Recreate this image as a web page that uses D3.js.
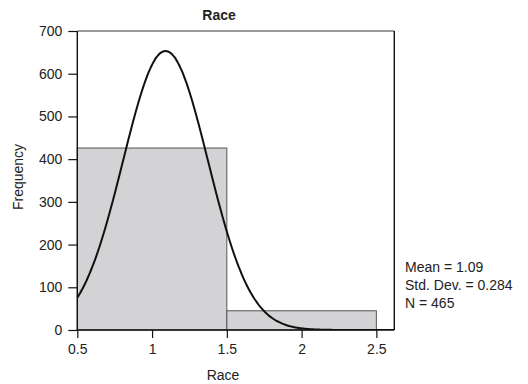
<!DOCTYPE html>
<html>
<head>
<meta charset="utf-8">
<script src="https://cdn.jsdelivr.net/npm/d3@7/dist/d3.min.js"></script>
<style>
  html, body { margin: 0; padding: 0; background: #fff; }
  svg { display: block; font-family: "Liberation Sans", Arial, Helvetica, sans-serif; }
</style>
</head>
<body>
<svg id="chart" width="528" height="384"></svg>
<script>
// Histogram bins of Race (bin start, bin end, frequency)
const binStarts = [0.5, 1.5];
const binEnds = [1.5, 2.5];
const frequencies = [426, 45];

// Summary statistics printed beside the chart
const mean = 1.09;
const stdDev = 0.284;
const n = 465;
const statLines = ["Mean = 1.09", "Std. Dev. = 0.284", "N = 465"];

// Axis ticks
const xTicks = [0.5, 1, 1.5, 2, 2.5];
const yTicks = [0, 100, 200, 300, 400, 500, 600, 700];

const svg = d3.select("#chart");
const plotLeft = 77.3, plotRight = 394.3, plotTop = 31, plotBottom = 330;

const x = d3.scaleLinear().domain([0.5, 2.62]).range([plotLeft, plotRight]);
const y = d3.scaleLinear().domain([0, 700]).range([plotBottom, plotTop]);

// Bars
const bins = binStarts.map((s, i) => ({ x0: s, x1: binEnds[i], f: frequencies[i] }));
svg.append("g").selectAll("rect").data(bins).join("rect")
  .attr("x", d => x(d.x0))
  .attr("y", d => y(d.f))
  .attr("width", d => x(d.x1) - x(d.x0))
  .attr("height", d => y(0) - y(d.f))
  .attr("fill", "#d3d3d5")
  .attr("stroke", "#555")
  .attr("stroke-width", 1);

// Normal curve scaled to counts: N * bin width * density
const binWidth = 1;
const normal = v => n * binWidth * Math.exp(-0.5 * ((v - mean) / stdDev) ** 2) / (stdDev * Math.sqrt(2 * Math.PI));
const curveXs = d3.range(0.5, 2.62 + 1e-9, 0.01);
svg.append("clipPath").attr("id", "plotClip")
  .append("rect").attr("x", plotLeft).attr("y", plotTop)
  .attr("width", plotRight - plotLeft).attr("height", plotBottom - plotTop);
svg.append("path")
  .datum(curveXs)
  .attr("clip-path", "url(#plotClip)")
  .attr("fill", "none")
  .attr("stroke", "#111")
  .attr("stroke-width", 2)
  .attr("d", d3.line().x(d => x(d)).y(d => y(normal(d))).curve(d3.curveBasis));

// Frame: top edge grey, right edge black
svg.append("line").attr("x1", plotLeft).attr("x2", plotRight).attr("y1", plotTop).attr("y2", plotTop)
  .attr("stroke", "#777").attr("stroke-width", 1.4);
svg.append("line").attr("x1", plotRight).attr("x2", plotRight).attr("y1", plotTop).attr("y2", plotBottom)
  .attr("stroke", "#111").attr("stroke-width", 1.4);

// Axes
const yAxis = d3.axisLeft(y).tickValues(yTicks).tickSize(9).tickPadding(6).tickFormat(d3.format("d"));
const gy = svg.append("g").attr("transform", `translate(${plotLeft},0)`).call(yAxis);
const xAxis = d3.axisBottom(x).tickValues(xTicks).tickSize(8).tickPadding(6).tickFormat(d => String(d));
const gx = svg.append("g").attr("transform", `translate(0,${plotBottom})`).call(xAxis);

[gx, gy].forEach(g => {
  g.select(".domain").remove();
  g.selectAll(".tick line").attr("stroke", "#111").attr("stroke-width", 1.2);
  g.selectAll(".tick text").attr("fill", "#222").style("font-size", "14px")
    .style("font-family", "'Liberation Sans', Arial, sans-serif");
});
svg.append("line").attr("x1", plotLeft).attr("x2", plotLeft).attr("y1", plotTop).attr("y2", plotBottom)
  .attr("stroke", "#111").attr("stroke-width", 1.4);
svg.append("line").attr("x1", plotLeft).attr("x2", plotRight).attr("y1", plotBottom).attr("y2", plotBottom)
  .attr("stroke", "#111").attr("stroke-width", 1.6);

// Titles
svg.append("text").attr("x", 219).attr("y", 20).attr("text-anchor", "middle")
  .style("font-size", "14px").style("font-weight", "bold").attr("fill", "#222").text("Race");
svg.append("text").attr("x", 223).attr("y", 380).attr("text-anchor", "middle")
  .style("font-size", "14px").attr("fill", "#222").text("Race");
svg.append("text").attr("transform", "translate(23,177) rotate(-90)").attr("text-anchor", "middle")
  .style("font-size", "14px").attr("fill", "#222").text("Frequency");

// Statistics block
svg.append("g").selectAll("text").data(statLines).join("text")
  .attr("x", 405).attr("y", (d, i) => 272 + i * 18)
  .style("font-size", "14px").attr("fill", "#222").text(d => d);
</script>
</body>
</html>
